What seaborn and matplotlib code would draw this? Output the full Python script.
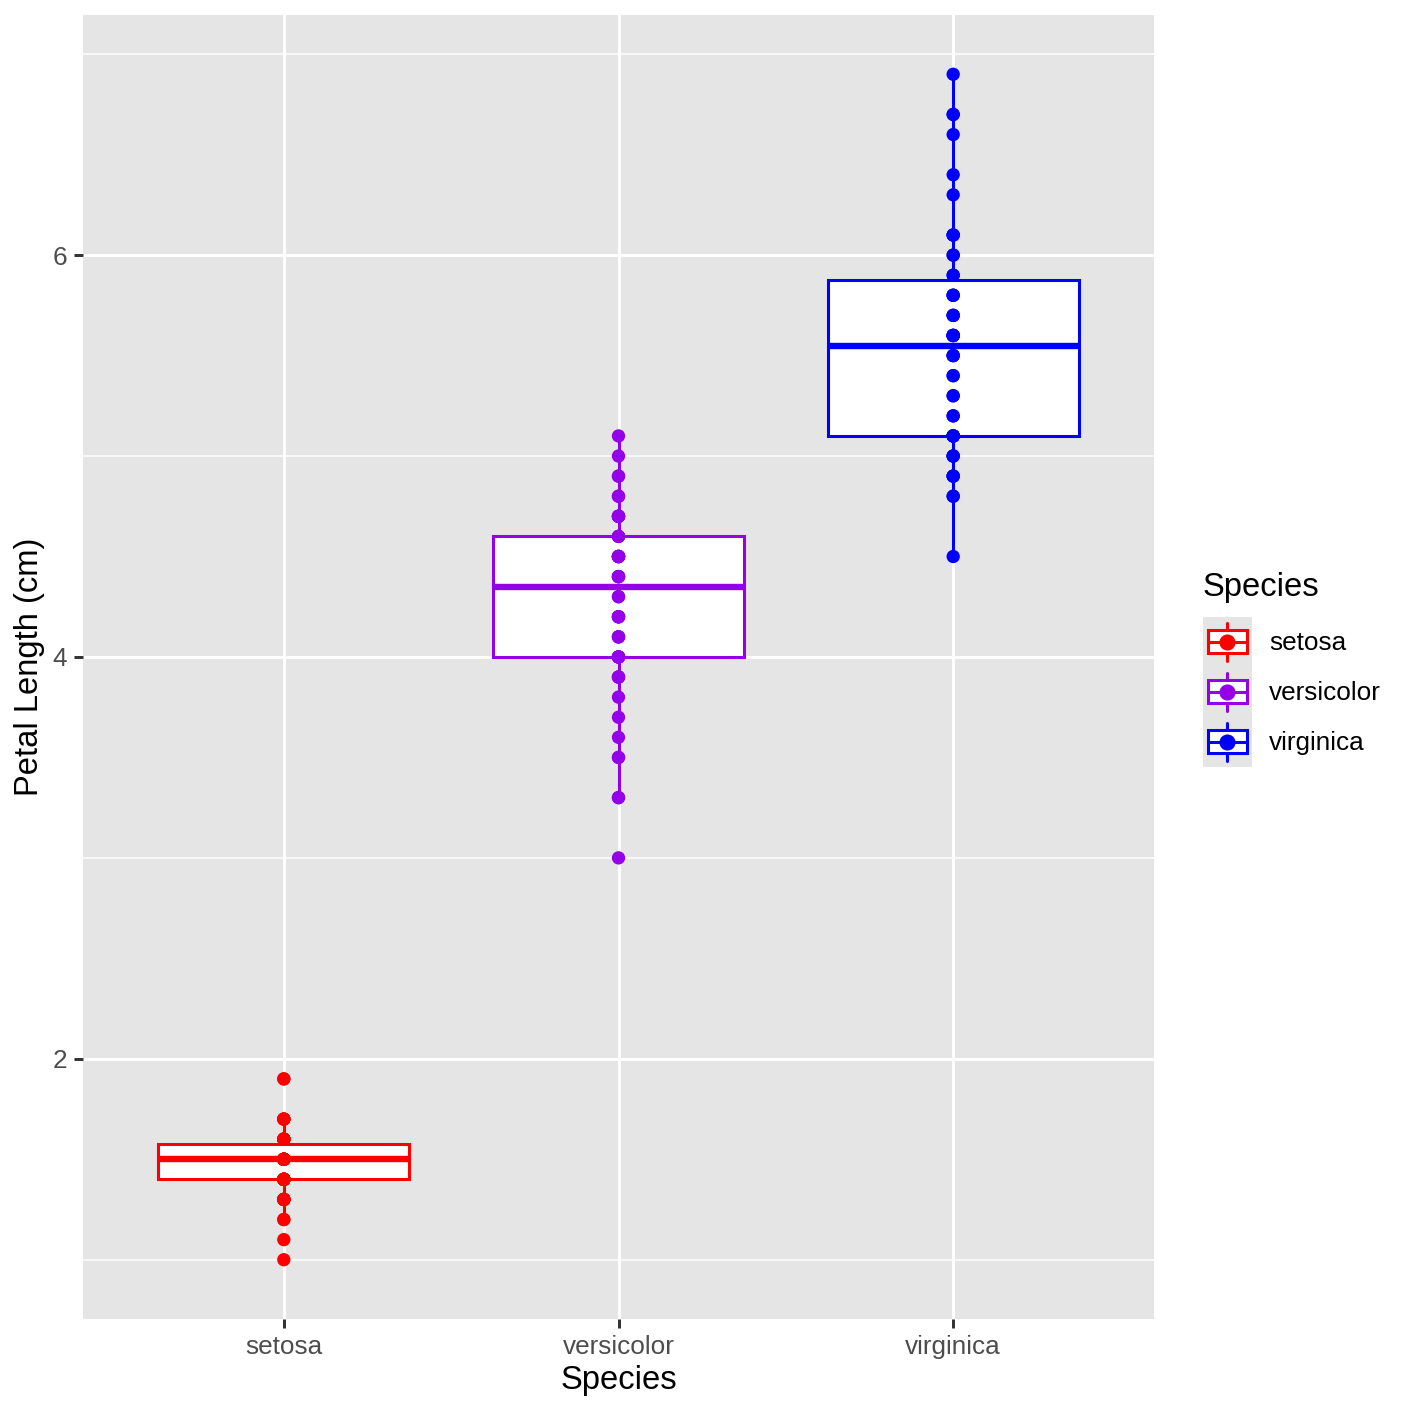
import numpy as np
import pandas as pd
import matplotlib
matplotlib.use("Agg")
import matplotlib.pyplot as plt
import seaborn as sns
from matplotlib.patches import Rectangle
from matplotlib.lines import Line2D
from matplotlib.legend_handler import HandlerBase

# petal length (cm) per species
setosa = [1.4, 1.4, 1.3, 1.5, 1.4, 1.7, 1.4, 1.5, 1.4, 1.5, 1.5, 1.6, 1.4, 1.1, 1.2,
          1.5, 1.3, 1.4, 1.7, 1.5, 1.7, 1.5, 1.0, 1.7, 1.9, 1.6, 1.6, 1.5, 1.4, 1.6,
          1.6, 1.5, 1.5, 1.4, 1.5, 1.2, 1.3, 1.4, 1.3, 1.5, 1.3, 1.3, 1.3, 1.6, 1.9,
          1.4, 1.6, 1.4, 1.5, 1.4]
versicolor = [4.7, 4.5, 4.9, 4.0, 4.6, 4.5, 4.7, 3.3, 4.6, 3.9, 3.5, 4.2, 4.0, 4.7, 3.6,
              4.4, 4.5, 4.1, 4.5, 3.9, 4.8, 4.0, 4.9, 4.7, 4.3, 4.4, 4.8, 5.0, 4.5, 3.5,
              3.8, 3.7, 3.9, 5.1, 4.5, 4.5, 4.7, 4.4, 4.1, 4.0, 4.4, 4.6, 4.0, 3.3, 4.2,
              4.2, 4.2, 4.3, 3.0, 4.1]
virginica = [6.0, 5.1, 5.9, 5.6, 5.8, 6.6, 4.5, 6.3, 5.8, 6.1, 5.1, 5.3, 5.5, 5.0, 5.1,
             5.3, 5.5, 6.7, 6.9, 5.0, 5.7, 4.9, 6.7, 4.9, 5.7, 6.0, 4.8, 4.9, 5.6, 5.8,
             6.1, 6.4, 5.6, 5.1, 5.6, 6.1, 5.6, 5.5, 4.8, 5.4, 5.6, 5.1, 5.1, 5.9, 5.7,
             5.2, 5.0, 5.2, 5.4, 5.1]

species = ["setosa", "versicolor", "virginica"]
colors = ["#FF0000", "#9400E8", "#0000FF"]
y_ticks = [2, 4, 6]

df = pd.DataFrame({
    "Species": np.repeat(species, [len(setosa), len(versicolor), len(virginica)]),
    "Petal.Length": setosa + versicolor + virginica,
})
pal = dict(zip(species, colors))

sns.set_theme(style="darkgrid")
plt.rcParams["font.family"] = ["Liberation Sans", "DejaVu Sans"]
plt.rcParams["text.color"] = "black"

small, big = 9.4, 11.8
dot = 4.8

fig = plt.figure(figsize=(7.06, 7.06), dpi=200)
ax = fig.add_axes([83 / 1412, 1 - 1319 / 1412, (1154 - 83) / 1412, (1319 - 15) / 1412])
ax.set_facecolor("#E5E5E5")

for s, c in zip(species, colors):
    sub = df[df["Species"] == s]
    sns.boxplot(data=sub, x="Species", y="Petal.Length", order=species, width=0.75,
                showfliers=False, ax=ax,
                boxprops=dict(facecolor="white", edgecolor=c, linewidth=1.1),
                whiskerprops=dict(color=c, linewidth=1.1),
                capprops=dict(linewidth=0),
                medianprops=dict(color=c, linewidth=2.3))

sns.stripplot(data=df, x="Species", y="Petal.Length", hue="Species", order=species,
              palette=pal, jitter=False, size=dot, linewidth=0, legend=False, ax=ax, zorder=5)

ax.set_xlim(-0.6, 2.6)
ax.set_ylim(0.705, 7.195)
ax.set_yticks(y_ticks)
ax.set_yticks([1, 3, 5, 7], minor=True)
ax.grid(which="major", color="white", linewidth=1.07)
ax.grid(which="minor", color="white", linewidth=0.55)
ax.set_axisbelow(True)
for sp in ax.spines.values():
    sp.set_visible(False)
ax.tick_params(axis="both", which="major", length=3.3, width=1.07, color="#333333",
               labelsize=small, labelcolor="#4D4D4D", pad=2.5, left=True, bottom=True)
ax.tick_params(axis="both", which="minor", length=0)
ax.set_xlabel("Species", fontsize=big, color="black", labelpad=2)
ax.set_ylabel("Petal Length (cm)", fontsize=big, color="black", labelpad=2.5)


class BoxKey(HandlerBase):
    def create_artists(self, legend, orig_handle, xdescent, ydescent, width, height,
                       fontsize, trans):
        c = orig_handle.get_color()
        h = height
        x0, y0 = -xdescent, -ydescent
        cx, cy = x0 + width / 2, y0 + h / 2
        bg = Rectangle((x0, y0), width, h, facecolor="#E5E5E5",
                       edgecolor="none", transform=trans)
        wh = Line2D([cx, cx], [y0 + h * 0.12, y0 + h * 0.88], color=c,
                    linewidth=1.1, transform=trans)
        bx = Rectangle((x0 + width * 0.1, cy - h * 0.23), width * 0.8, h * 0.46,
                       facecolor="white", edgecolor=c, linewidth=1.1, transform=trans)
        md = Line2D([x0 + width * 0.1, x0 + width * 0.9], [cy, cy], color=c,
                    linewidth=1.1, transform=trans)
        dt = Line2D([cx], [cy], marker="o", markersize=dot, color=c,
                    linestyle="none", transform=trans)
        return [bg, wh, bx, md, dt]


handles = [Line2D([], [], color=c) for c in colors]
leg = fig.legend(handles, species, title="Species", loc="center left",
                 bbox_to_anchor=(1203 / 1412, 1 - 669.5 / 1412), frameon=False,
                 fontsize=small, title_fontsize=big, handler_map={Line2D: BoxKey()},
                 handlelength=1.87, handleheight=2.57, labelspacing=0,
                 handletextpad=0.65, borderaxespad=0, borderpad=0,
                 labelcolor="black")
leg.get_title().set_color("black")
leg._legend_box.align = "left"
leg._legend_box.sep = 5.0

fig.savefig("out.png", dpi=200, facecolor="white")
